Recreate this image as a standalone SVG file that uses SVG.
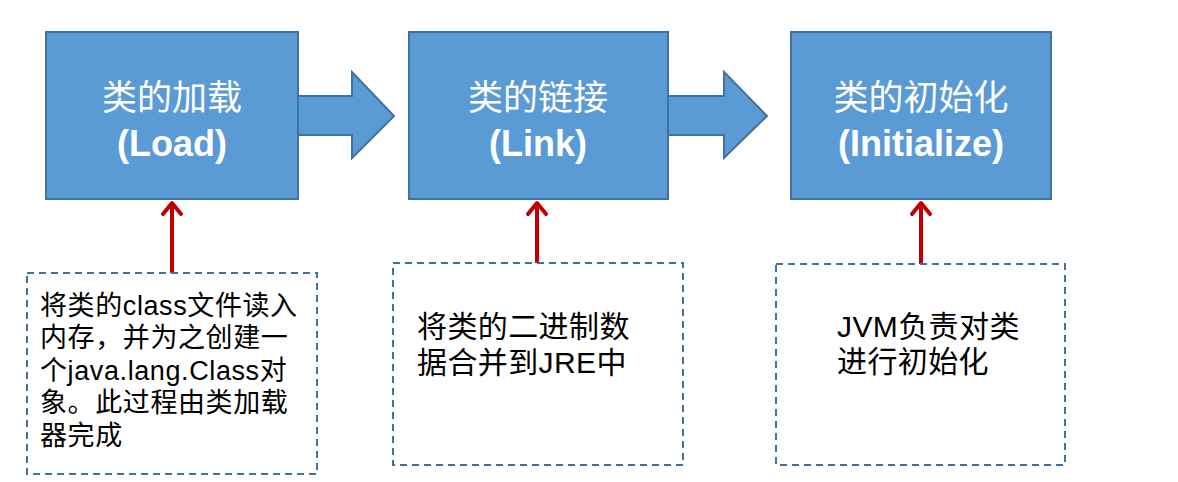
<svg xmlns="http://www.w3.org/2000/svg" width="1178" height="482" viewBox="0 0 1178 482">
<style>
.stage{fill:#5B9BD5;stroke:#41719C;stroke-width:2}
.title{font-family:"Liberation Sans","Noto Sans CJK SC",sans-serif;fill:#FFFFFF;text-anchor:middle}
.t1{font-size:35px}
.t2{font-size:36px;font-weight:bold}
.note{fill:#FFFFFF;stroke:#41719C;stroke-width:2;stroke-dasharray:7 5}
.desc{font-family:"Liberation Sans","Noto Sans CJK SC",sans-serif;fill:#000000}
.red{stroke:#C00000;stroke-width:4;fill:none}
.head{stroke:#C00000;stroke-width:4;fill:none;stroke-linecap:round;stroke-linejoin:round}
</style>
<rect width="1178" height="482" fill="#FFFFFF"/>
<g id="connectors">
<path class="stage" d="M298,96 L352,96 L352,72 L394,116 L352,158 L352,135 L298,135 Z"/>
<path class="stage" d="M668,96 L724,96 L724,72 L767,116 L724,158 L724,135 L668,135 Z"/>
<line class="red" x1="172" y1="203" x2="172" y2="273"/>
<polyline class="head" points="163,214 172,203 181,214"/>
<line class="red" x1="537" y1="203" x2="537" y2="263"/>
<polyline class="head" points="528,214 537,203 546,214"/>
<line class="red" x1="921" y1="203" x2="921" y2="264"/>
<polyline class="head" points="912,214 921,203 930,214"/>
</g>
<g id="load">
<rect class="stage" x="46" y="32" width="252" height="167"/>
<text class="title t1" x="172" y="110">类的加载</text>
<text class="title t2" x="172" y="156">(Load)</text>
</g>
<g id="link">
<rect class="stage" x="409" y="32" width="259" height="167"/>
<text class="title t1" x="538" y="110">类的链接</text>
<text class="title t2" x="538" y="156">(Link)</text>
</g>
<g id="initialize">
<rect class="stage" x="791" y="32" width="260" height="167"/>
<text class="title t1" x="921" y="110">类的初始化</text>
<text class="title t2" x="921" y="156">(Initialize)</text>
</g>
<g id="note-load">
<rect class="note" x="27" y="273" width="290" height="201"/>
<text class="desc" font-size="27" letter-spacing="0.6">
<tspan x="40" y="315">将类的class文件读入</tspan>
<tspan x="40" y="347">内存，并为之创建一</tspan>
<tspan x="40" y="380">个java.lang.Class对</tspan>
<tspan x="40" y="412">象。此过程由类加载</tspan>
<tspan x="40" y="445">器完成</tspan>
</text>
</g>
<g id="note-link">
<rect class="note" x="393" y="263" width="290" height="202"/>
<text class="desc" font-size="30" letter-spacing="0.4">
<tspan x="417" y="337">将类的二进制数</tspan>
<tspan x="417" y="373">据合并到JRE中</tspan>
</text>
</g>
<g id="note-init">
<rect class="note" x="776" y="264" width="289" height="201"/>
<text class="desc" font-size="30" letter-spacing="0.4">
<tspan x="837" y="337">JVM负责对类</tspan>
<tspan x="837" y="372">进行初始化</tspan>
</text>
</g>
</svg>
